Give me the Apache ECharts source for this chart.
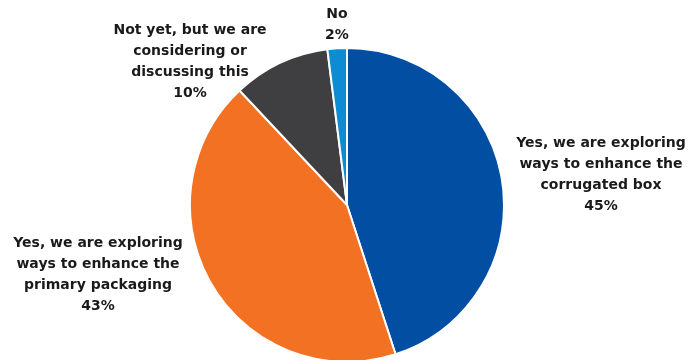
<!DOCTYPE html>
<html>
<head>
<meta charset="utf-8">
<script src="https://cdn.jsdelivr.net/npm/echarts@6/dist/echarts.min.js"></script>
<style>
  html, body { margin: 0; padding: 0; background: #ffffff; }
  #chart { width: 688px; height: 360px; }
</style>
</head>
<body>
<div id="chart"></div>
<script>
// Survey answers, drawn clockwise from 12 o'clock
const categories = [
  'Yes, we are exploring\nways to enhance the\ncorrugated box',
  'Yes, we are exploring\nways to enhance the\nprimary packaging',
  'Not yet, but we are\nconsidering or\ndiscussing this',
  'No'
];
const shares = [45, 43, 10, 2];
const colors = ['#024ea2', '#f37123', '#3f3f41', '#0d8bd3'];

// Where each label block sits (centre x, top y)
const labelSpots = [
  { x: 601, y: 133 },
  { x: 98, y: 233 },
  { x: 190, y: 20 },
  { x: 337, y: 4 }
];

const chart = echarts.init(document.getElementById('chart'), null, { renderer: 'canvas' });

chart.setOption({
  animation: false,
  backgroundColor: '#ffffff',
  series: [{
    type: 'pie',
    center: [347, 205],
    radius: [0, 157],
    startAngle: 90,
    clockwise: true,
    data: categories.map((name, i) => ({
      name: name,
      value: shares[i],
      itemStyle: { color: colors[i] }
    })),
    itemStyle: { borderColor: '#ffffff', borderWidth: 2 },
    label: {
      show: true,
      position: 'outside',
      alignTo: 'none',
      overflow: 'none',
      formatter: p => p.name + '\n' + p.value + '%',
      fontFamily: 'DejaVu Sans',
      fontWeight: 'bold',
      fontSize: 14,
      lineHeight: 21,
      color: '#1a1a1a',
      align: 'center'
    },
    labelLine: { show: false },
    labelLayout: p => ({
      x: labelSpots[p.dataIndex].x,
      y: labelSpots[p.dataIndex].y,
      align: 'center',
      verticalAlign: 'top'
    }),
    emphasis: { disabled: true }
  }]
});
</script>
</body>
</html>
